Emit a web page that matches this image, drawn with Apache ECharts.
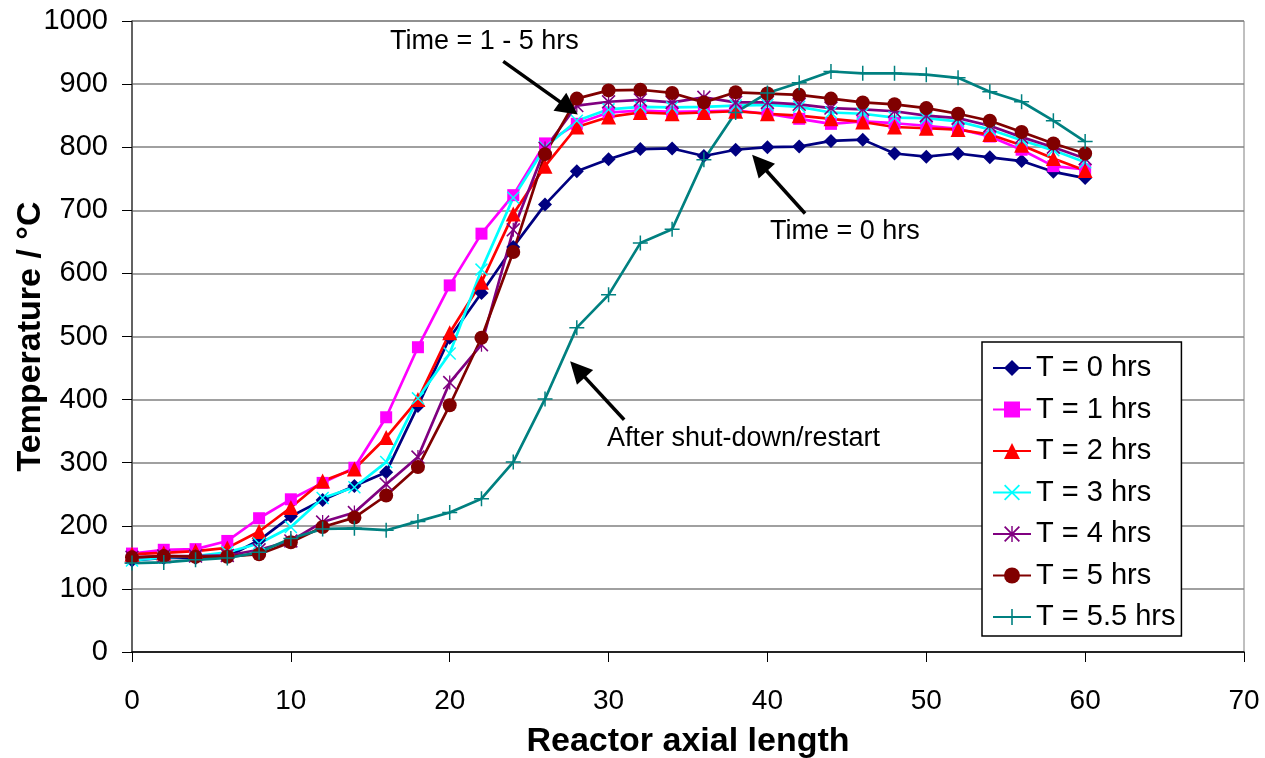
<!DOCTYPE html>
<html>
<head>
<meta charset="utf-8">
<script src="https://cdn.jsdelivr.net/npm/echarts@6/dist/echarts.min.js"></script>
<style>
  html, body { margin: 0; padding: 0; background: #fff; }
  #chart { width: 1265px; height: 758px; }
</style>
</head>
<body>
<div id="chart"></div>
<script>
// Axial positions along the reactor
const positions = [0, 2, 4, 6, 8, 10, 12, 14, 16, 18, 20, 22, 24, 26, 28, 30,
  32, 34, 36, 38, 40, 42, 44, 46, 48, 50, 52, 54, 56, 58, 60];

// Temperature profiles (°C) at each time on stream
const temp0h = [145, 149, 149, 151, 177, 215, 241, 263, 285, 390, 498, 569, 642, 709, 762, 781,
  797, 798, 786, 796, 800, 801, 810, 812, 790, 785, 790, 784, 778, 761, 751];
const temp1h = [156, 162, 163, 176, 212, 242, 268, 292, 372, 483, 581, 663, 724, 806, 837, 855,
  858, 856, 857, 858, 853, 845, 837, 841, 838, 834, 829, 817, 796, 770, 765];
const temp2h = [155, 157, 160, 165, 191, 229, 271, 290, 340, 400, 506, 586, 694, 770, 832, 848,
  855, 853, 855, 857, 853, 850, 845, 840, 832, 830, 828, 820, 803, 782, 763];
const temp3h = [145, 150, 152, 158, 172, 198, 244, 261, 301, 402, 473, 606, 720, 800, 842, 860,
  864, 863, 864, 866, 867, 864, 855, 853, 847, 846, 841, 828, 811, 795, 776];
const temp4h = [150, 152, 152, 153, 162, 176, 206, 221, 266, 309, 427, 487, 669, 798, 866, 872,
  875, 871, 879, 871, 871, 868, 862, 860, 857, 850, 846, 834, 816, 800, 782];
const temp5h = [150, 152, 151, 151, 155, 174, 198, 213, 248, 293, 391, 498, 634, 789, 877, 890,
  891, 886, 871, 887, 885, 883, 877, 871, 868, 862, 853, 842, 824, 806, 790];
const temp55h = [141, 142, 146, 149, 158, 180, 195, 196, 193, 207, 221, 243, 301, 401, 514, 566,
  648, 670, 780, 855, 886, 902, 920, 917, 917, 915, 910, 888, 872, 842, 809];

const seriesNames = ['T = 0 hrs', 'T = 1 hrs', 'T = 2 hrs', 'T = 3 hrs', 'T = 4 hrs', 'T = 5 hrs', 'T = 5.5 hrs'];
const seriesValues = [temp0h, temp1h, temp2h, temp3h, temp4h, temp5h, temp55h];
const seriesColors = ['#000080', '#FF00FF', '#FF0000', '#00FFFF', '#800080', '#800000', '#008080'];

// Annotation arrows: [tail, tip] in axis units, with their captions
const arrowLines = [
  [[23.37, 936], [27.5, 862]],
  [[42.37, 695], [39.5, 775]],
  [[30.98, 368], [28.05, 448]]
];
const captions = [
  { text: 'Time = 1 - 5 hrs', x: 390, y: 43 },
  { text: 'Time = 0 hrs', x: 770, y: 233 },
  { text: 'After shut-down/restart', x: 607, y: 440 }
];

// Stroke-like marker shapes built as thin filled paths
const crossX = 'path://M0,0.8 L0.8,0 L10,9.2 L9.2,10 Z M9.2,0 L10,0.8 L0.8,10 L0,9.2 Z';
const asterisk = 'path://M0,0.8 L0.8,0 L10,9.2 L9.2,10 Z M9.2,0 L10,0.8 L0.8,10 L0,9.2 Z M4.55,0 L5.45,0 L5.45,10 L4.55,10 Z';
const plusMark = 'path://M4.5,0 L5.5,0 L5.5,4.5 L10,4.5 L10,5.5 L5.5,5.5 L5.5,10 L4.5,10 L4.5,5.5 L0,5.5 L0,4.5 L4.5,4.5 Z';
const symbols = ['diamond', 'rect', 'triangle', crossX, asterisk, 'circle', plusMark];
const symbolSizes = [14, 12, 15, 13, 14, 14, 15];

const FONT = '"Liberation Sans", Arial, sans-serif';

const lineSeries = seriesNames.map((name, i) => ({
  name: name,
  type: 'line',
  data: positions.map((p, k) => [p, seriesValues[i][k]]),
  symbol: symbols[i],
  symbolSize: symbolSizes[i],
  showAllSymbol: true,
  lineStyle: { color: seriesColors[i], width: 2.7 },
  itemStyle: { color: seriesColors[i], opacity: 1 },
  emphasis: { disabled: true }
}));

const arrowSeries = {
  name: 'arrows',
  type: 'line',
  data: [],
  silent: true,
  z: 10,
  markLine: {
    silent: true,
    symbol: ['none', 'triangle'],
    symbolSize: 22,
    label: { show: false },
    lineStyle: { color: '#000', width: 3.5, type: 'solid' },
    itemStyle: { color: '#000' },
    emphasis: { disabled: true },
    data: arrowLines.map(a => [{ coord: a[0] }, { coord: a[1] }])
  }
};

const chart = echarts.init(document.getElementById('chart'), null, { renderer: 'canvas' });
chart.setOption({
  animation: false,
  backgroundColor: '#fff',
  textStyle: { fontFamily: FONT },
  grid: {
    left: 132, right: 21, top: 21, bottom: 106,
    containLabel: false, outerBoundsMode: 'none',
    show: true, borderColor: '#808080', borderWidth: 1, backgroundColor: '#fff'
  },
  xAxis: {
    type: 'value', min: 0, max: 70, interval: 10,
    name: 'Reactor axial length', nameLocation: 'middle', nameGap: 73,
    nameTextStyle: { fontFamily: FONT, fontSize: 34, fontWeight: 'bold', color: '#000' },
    axisLine: { show: true, onZero: false, lineStyle: { color: '#000', width: 1.5 } },
    axisTick: { show: true, inside: false, length: 10, lineStyle: { color: '#000' } },
    axisLabel: { fontFamily: FONT, fontSize: 28, color: '#000', margin: 35, formatter: v => String(v) },
    splitLine: { show: false }
  },
  yAxis: {
    type: 'value', min: 0, max: 1000, interval: 100,
    name: 'Temperature / °C', nameLocation: 'middle', nameGap: 84, nameMoveOverlap: false,
    nameTextStyle: { fontFamily: FONT, fontSize: 34, fontWeight: 'bold', color: '#000' },
    axisLine: { show: true, lineStyle: { color: '#444', width: 1.5 } },
    axisTick: { show: true, inside: false, length: 10, lineStyle: { color: '#000' } },
    axisLabel: { fontFamily: FONT, fontSize: 29, color: '#000', margin: 24, formatter: v => String(v) },
    splitLine: { show: true, lineStyle: { color: '#808080', width: 1.5 } }
  },
  legend: {
    data: seriesNames,
    orient: 'vertical',
    left: 982, top: 342,
    padding: [11, 6, 4, 10],
    itemGap: 11.5,
    itemWidth: 38, itemHeight: 20,
    borderColor: '#000', borderWidth: 1.5, backgroundColor: '#fff',
    textStyle: { fontFamily: FONT, fontSize: 29, color: '#000', lineHeight: 30 },
    selectedMode: false
  },
  graphic: captions.map(c => ({
    type: 'text', left: c.x, top: c.y - 15, silent: true,
    style: { text: c.text, fontFamily: FONT, fontSize: 27, fill: '#000' }
  })),
  series: lineSeries.concat([arrowSeries])
});
</script>
</body>
</html>
